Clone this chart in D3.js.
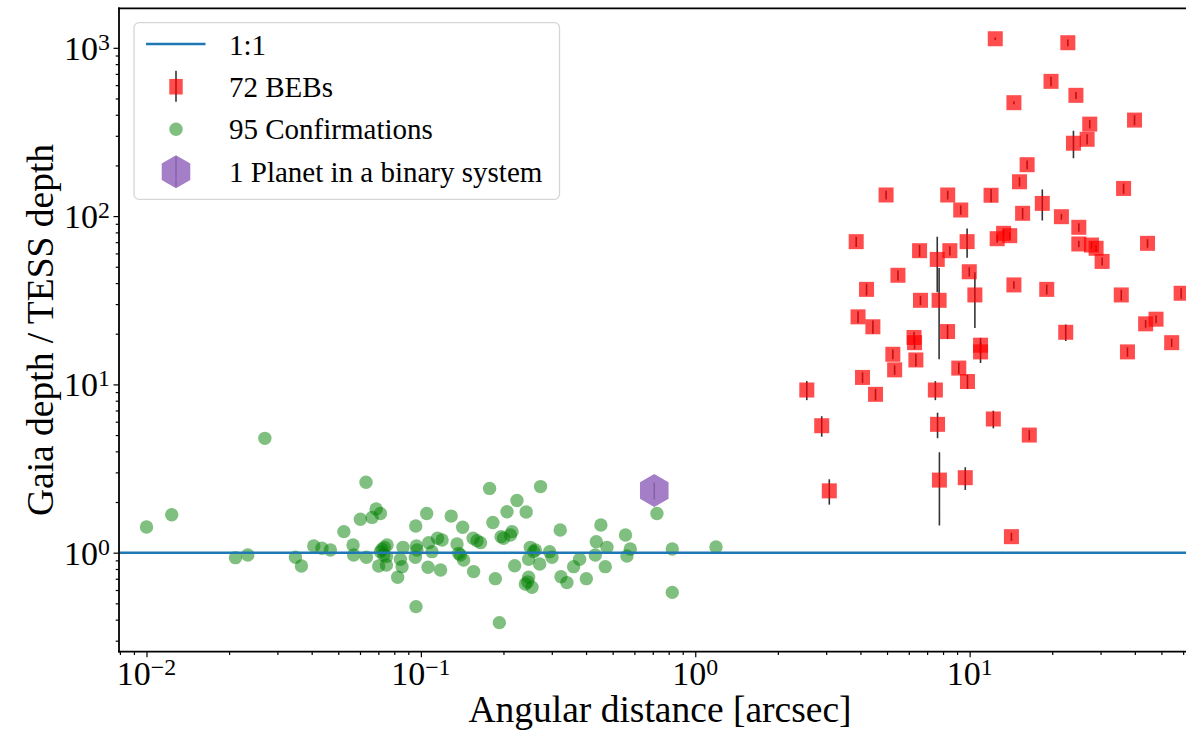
<!DOCTYPE html>
<html>
<head>
<meta charset="utf-8">
<script src="https://cdn.jsdelivr.net/npm/d3@7"></script>
<style>
  html, body { margin: 0; padding: 0; background: #fff; overflow: hidden; }
  text { font-family: "Liberation Serif", "Times New Roman", serif; fill: #000; }
</style>
</head>
<body>
<svg id="chart" width="1186" height="731"></svg>
<script>
// ---- Confirmed planets: angular distance [arcsec] and Gaia/TESS depth ratio ----
const confDist = [
  0.0631, 0.178, 0.273, 0.224, 0.206, 0.242, 0.725, 0.0687, 0.0712, 0.0602,
  0.0664, 0.105, 0.129, 0.183, 0.0958, 0.142, 0.322, 0.453, 0.557, 0.0524,
  0.196, 0.215, 0.212, 0.155, 0.165, 0.115, 0.1195, 0.0407, 0.0436, 0.0468,
  0.0566, 0.0569, 0.0633, 0.0722, 0.0753, 0.0732, 0.0861, 0.0963, 0.0955, 0.1068,
  0.1098, 0.1354, 0.1393, 0.1432, 0.0349, 0.0367, 0.0702, 0.0749, 0.0842, 0.0854,
  0.0823, 0.1062, 0.118, 0.1557, 0.1868, 0.2197, 0.2505, 0.2614, 0.247, 0.271,
  0.2946, 0.3005, 0.247, 0.2403, 0.2541, 0.324, 0.3407, 0.4009, 0.3603, 0.379,
  0.4358, 0.4322, 0.4767, 0.47, 0.5636, 0.5797, 0.8245, 0.8245, 0.096, 0.1932,
  0.0712, 0.0736, 0.0749, 0.0968, 0.1373, 0.1602, 0.2002, 0.2576, 0.245,
  0.0100, 0.01236, 0.0211, 0.0234, 0.0270, 1.19
];
const confRatio = [
  2.62, 2.41, 2.47, 2.04, 1.75, 1.745, 1.71, 1.82, 1.71, 1.58,
  1.62, 1.71, 1.65, 1.51, 1.44, 1.415, 1.364, 1.46, 1.274, 1.334,
  1.245, 1.334, 1.274, 1.218, 1.147, 1.218, 1.19, 1.096, 1.062, 1.038,
  1.111, 0.969, 0.939, 1.047, 1.111, 0.969, 1.076, 1.096, 0.939, 1.147,
  1.014, 1.126, 0.969, 0.905, 0.939, 0.834, 0.834, 0.845, 0.913, 0.826,
  0.714, 0.819, 0.789, 0.772, 0.701, 0.837, 1.076, 1.038, 0.913, 0.857,
  1.014, 0.939, 0.714, 0.652, 0.623, 0.72, 0.664, 0.701, 0.826, 0.913,
  1.163, 0.969, 1.076, 0.826, 0.956, 1.052, 1.052, 0.581, 0.478, 0.384,
  1.014, 1.076, 0.948, 1.038, 0.991, 1.179, 1.218, 1.014, 0.671,
  1.42, 1.68, 0.934, 0.969, 4.78, 1.08
];

// ---- Blended eclipsing binaries: distance, depth ratio, 1-sigma error ----
const bebDist = [
  12.4, 22.8, 19.8, 24.4, 14.5, 27.4, 39.9, 26.8, 23.9, 16.2,
  15.2, 36.4, 4.96, 8.32, 11.97, 9.28, 15.6, 18.4, 21.6, 25.0,
  3.86, 6.57, 8.47, 7.62, 9.79, 12.6, 14.0, 13.3, 25.0, 27.8,
  28.9, 30.4, 44.5, 5.48, 4.21, 9.97, 10.45, 14.5, 19.1, 35.7,
  59.0, 6.62, 7.74, 3.92, 4.44, 8.31, 6.27, 6.30, 10.96, 10.96,
  5.25, 6.37, 5.33, 9.13, 9.82, 4.07, 4.54, 2.55, 7.50, 2.89,
  7.64, 12.2, 16.5, 3.08, 7.76, 9.64, 14.2, 22.4, 37.6, 43.8,
  47.8, 54.5
];
const bebRatio = [
  1132, 1072, 632, 522, 472, 352, 372, 286, 271, 202,
  160, 146, 133.5, 133.5, 133, 108.7, 103.9, 119, 99.2, 85.8,
  70.5, 62.3, 62.3, 55.3, 70.5, 73.4, 76.5, 79, 68.3, 67.3,
  64.4, 53.8, 68.9, 44.5, 36.7, 46.7, 34.0, 39.0, 36.7, 34.0,
  34.8, 31.6, 31.6, 25.2, 22.0, 20.6, 19.0, 17.7, 17.1, 15.6,
  15.1, 13.97, 12.2, 12.5, 10.4, 11.0, 8.73, 9.26, 9.26, 5.68,
  5.79, 6.23, 5.0, 2.33, 2.70, 2.79, 1.245, 20.4, 15.6, 22.9,
  24.4, 17.7
];
const bebErr = [
  20, 50, 40, 25, 10, 20, 25, 20, 50, 12,
  10, 10, 8, 8, 12, 7, 8, 25, 4, 5,
  5, 5, 4, 20, 14, 4, 4, 4, 3, 3,
  3, 3, 4, 3, 3, 3, 12.4, 2, 2.5, 2.5,
  2.5, 2, 17.5, 2, 2, 2, 1.5, 1.5, 1.8, 2.2,
  1, 1.2, 0.8, 1, 1, 0.8, 0.7, 1.2, 1.2, 0.79,
  1.0, 0.75, 0.35, 0.4, 1.25, 0.43, 0.07, 2.3, 1, 1.2,
  1.3, 1
];

// ---- Planet in a binary system ----
const binDist = [0.709];
const binRatio = [2.34];
const binErr = [0.27];

// ---- Axis ticks and text ----
const xTickExps = [-2, -1, 0, 1];
const yTickExps = [0, 1, 2, 3];
const legendLabels = ["1:1", "72 BEBs", "95 Confirmations", "1 Planet in a binary system"];
const xLabel = "Angular distance [arcsec]";
const yLabel = "Gaia depth / TESS depth";

// ---- Layout ----
const plot = { left: 119, right: 1201, top: 8.3, bottom: 651.7 };
const C = {
  line: "#1f77b4", beb: "#ff0000", conf: "#008000", bin: "#9467bd", err: "#000"
};

const svg = d3.select("#chart");
const x = d3.scaleLog().domain([0.00794, 69.7]).range([plot.left, plot.right]);
const y = d3.scaleLog().domain([0.258, 1717]).range([plot.bottom, plot.top]);

svg.append("defs").append("clipPath").attr("id", "clip")
  .append("rect").attr("x", plot.left).attr("y", plot.top)
  .attr("width", plot.right - plot.left).attr("height", plot.bottom - plot.top);

const marks = svg.append("g").attr("clip-path", "url(#clip)");

// confirmations (scatter, drawn below lines)
marks.append("g").selectAll("circle")
  .data(confDist.map((d, i) => [d, confRatio[i]]))
  .join("circle")
  .attr("cx", d => x(d[0])).attr("cy", d => y(d[1])).attr("r", 6.7)
  .attr("fill", C.conf).attr("fill-opacity", 0.5);

// 1:1 reference line
marks.append("line")
  .attr("x1", plot.left).attr("x2", plot.right)
  .attr("y1", y(1)).attr("y2", y(1))
  .attr("stroke", C.line).attr("stroke-width", 2.5);

// BEB error bars and markers
const beb = bebDist.map((d, i) => ({ d, r: bebRatio[i], e: bebErr[i] }));
marks.append("g").selectAll("line")
  .data(beb).join("line")
  .attr("x1", p => x(p.d)).attr("x2", p => x(p.d))
  .attr("y1", p => y(p.r - p.e)).attr("y2", p => y(p.r + p.e))
  .attr("stroke", C.err).attr("stroke-width", 1.6).attr("stroke-opacity", 0.8);
const sq = 15;
marks.append("g").selectAll("rect")
  .data(beb).join("rect")
  .attr("x", p => x(p.d) - sq / 2).attr("y", p => y(p.r) - sq / 2)
  .attr("width", sq).attr("height", sq)
  .attr("fill", C.beb).attr("fill-opacity", 0.7);

// hexagon path (pointy top)
function hexPath(cx, cy, R) {
  const pts = d3.range(6).map(k => {
    const a = Math.PI / 2 + k * Math.PI / 3;
    return [cx + R * Math.cos(a), cy - R * Math.sin(a)];
  });
  return "M" + pts.map(p => p.join(",")).join("L") + "Z";
}

const bin = binDist.map((d, i) => ({ d, r: binRatio[i], e: binErr[i] }));
marks.append("g").selectAll("line")
  .data(bin).join("line")
  .attr("x1", p => x(p.d)).attr("x2", p => x(p.d))
  .attr("y1", p => y(p.r - p.e)).attr("y2", p => y(p.r + p.e))
  .attr("stroke", C.err).attr("stroke-width", 1.6).attr("stroke-opacity", 0.8);
marks.append("g").selectAll("path")
  .data(bin).join("path")
  .attr("d", p => hexPath(x(p.d), y(p.r), 16.5))
  .attr("fill", C.bin).attr("fill-opacity", 0.85);

// ---- Axes ----
function minorTicks(scale) {
  const [lo, hi] = scale.domain();
  const out = [];
  for (let e = Math.floor(Math.log10(lo)); e <= Math.ceil(Math.log10(hi)); e++) {
    for (let m = 2; m <= 9; m++) {
      const v = m * Math.pow(10, e);
      if (v >= lo && v <= hi) out.push(v);
    }
  }
  return out;
}
const xMajor = xTickExps.map(e => Math.pow(10, e));
const yMajor = yTickExps.map(e => Math.pow(10, e));

function styleAxis(g) {
  g.select(".domain").remove();
  g.selectAll(".tick line").attr("stroke", "#000").attr("stroke-width", 1.2);
}

svg.append("g").attr("transform", `translate(0,${plot.bottom})`)
  .call(d3.axisBottom(x).tickValues(minorTicks(x)).tickSize(3.3).tickFormat(""))
  .call(styleAxis);
svg.append("g").attr("transform", `translate(0,${plot.bottom})`)
  .call(d3.axisBottom(x).tickValues(xMajor).tickSize(5.5).tickFormat(""))
  .call(styleAxis);
svg.append("g").attr("transform", `translate(${plot.left},0)`)
  .call(d3.axisLeft(y).tickValues(minorTicks(y)).tickSize(3.3).tickFormat(""))
  .call(styleAxis);
svg.append("g").attr("transform", `translate(${plot.left},0)`)
  .call(d3.axisLeft(y).tickValues(yMajor).tickSize(5.5).tickFormat(""))
  .call(styleAxis);

// power-of-ten tick labels
function powLabel(sel, exp) {
  sel.append("tspan").text("10");
  sel.append("tspan").attr("dy", "-0.42em").attr("font-size", "0.7em")
    .text(exp < 0 ? "\u2212" + Math.abs(exp) : String(exp));
}
xTickExps.forEach(e => {
  svg.append("text").attr("x", x(Math.pow(10, e))).attr("y", 685)
    .attr("text-anchor", "middle").attr("font-size", 34)
    .call(powLabel, e);
});
yTickExps.forEach(e => {
  svg.append("text").attr("x", 110).attr("y", y(Math.pow(10, e)) + 12)
    .attr("text-anchor", "end").attr("font-size", 34)
    .call(powLabel, e);
});

// spines
const spine = svg.append("g").attr("stroke", "#000").attr("stroke-width", 1.8)
  .attr("stroke-linecap", "square");
spine.append("line").attr("x1", plot.left).attr("x2", plot.left)
  .attr("y1", plot.top).attr("y2", plot.bottom);
spine.append("line").attr("x1", plot.left).attr("x2", plot.right)
  .attr("y1", plot.bottom).attr("y2", plot.bottom);
spine.append("line").attr("x1", plot.left).attr("x2", plot.right)
  .attr("y1", plot.top).attr("y2", plot.top);
spine.append("line").attr("x1", plot.right).attr("x2", plot.right)
  .attr("y1", plot.top).attr("y2", plot.bottom);

// axis titles
svg.append("text").attr("x", (plot.left + plot.right) / 2).attr("y", 721.7)
  .attr("text-anchor", "middle").attr("font-size", 37.5).text(xLabel);
svg.append("text")
  .attr("transform", `translate(53,${(plot.top + plot.bottom) / 2}) rotate(-90)`)
  .attr("text-anchor", "middle").attr("font-size", 37.5).text(yLabel);

// ---- Legend ----
const lg = svg.append("g");
lg.append("rect").attr("x", 134).attr("y", 22.7).attr("width", 425.5).attr("height", 176.6)
  .attr("rx", 5).attr("fill", "#fff").attr("fill-opacity", 0.8)
  .attr("stroke", "#d6d6d6").attr("stroke-width", 1.3);
const rowY = [44, 86.7, 129.3, 171.7];
const mx = 176;
lg.append("line").attr("x1", 146).attr("x2", 205.5).attr("y1", rowY[0]).attr("y2", rowY[0])
  .attr("stroke", C.line).attr("stroke-width", 2.5);
lg.append("line").attr("x1", mx).attr("x2", mx).attr("y1", rowY[1] - 16).attr("y2", rowY[1] + 15)
  .attr("stroke", C.err).attr("stroke-width", 1.6).attr("stroke-opacity", 0.8);
lg.append("rect").attr("x", mx - 6.7).attr("y", rowY[1] - 7.8).attr("width", 13.4).attr("height", 15.6)
  .attr("fill", C.beb).attr("fill-opacity", 0.7);
lg.append("circle").attr("cx", mx).attr("cy", rowY[2]).attr("r", 6.7)
  .attr("fill", C.conf).attr("fill-opacity", 0.5);
lg.append("line").attr("x1", mx).attr("x2", mx).attr("y1", rowY[3] - 15).attr("y2", rowY[3] + 15)
  .attr("stroke", C.err).attr("stroke-width", 1.4).attr("stroke-opacity", 0.8);
lg.append("path").attr("d", hexPath(mx, rowY[3], 16.5))
  .attr("fill", C.bin).attr("fill-opacity", 0.85);
const textY = [55, 97.3, 138.6, 181.7];
legendLabels.forEach((t, i) => {
  lg.append("text").attr("x", 229).attr("y", textY[i]).attr("font-size", 29).text(t);
});
</script>
</body>
</html>
